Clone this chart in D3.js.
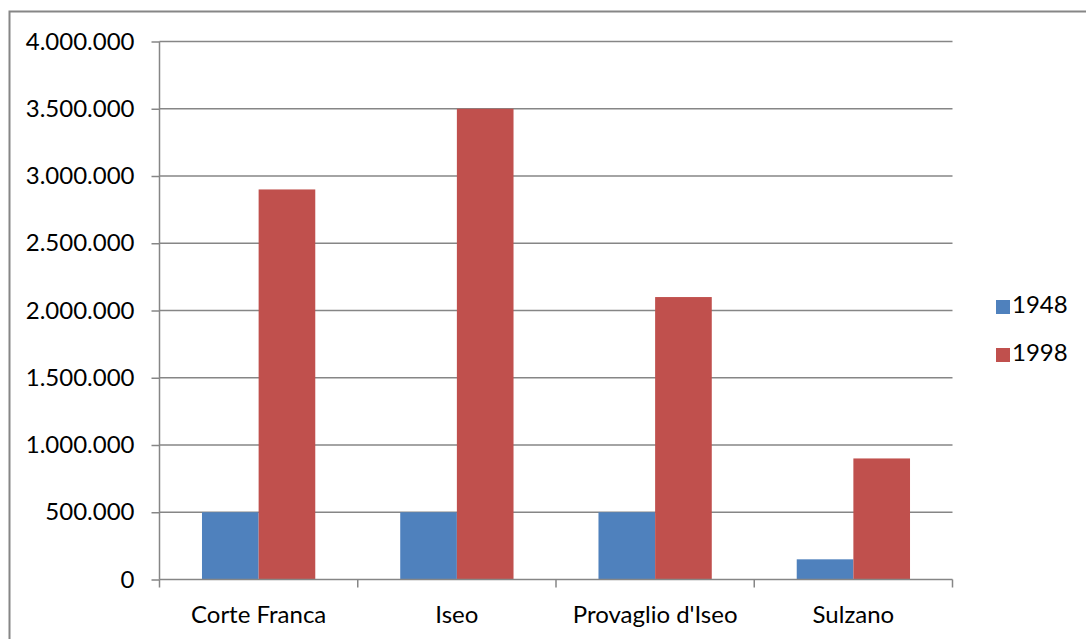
<!DOCTYPE html>
<html>
<head>
<meta charset="utf-8">
<script src="https://cdn.jsdelivr.net/npm/d3@7"></script>
<style>
  html, body { margin: 0; padding: 0; background: #fff; }
  svg { display: block; }
  text { font-family: Lato, "Open Sans", sans-serif; fill: #000; }
</style>
</head>
<body>
<svg id="chart" width="1086" height="639"></svg>
<script>
// Comuni and their totals for the two years
const categories = ["Corte Franca", "Iseo", "Provaglio d'Iseo", "Sulzano"];
const seriesNames = ["1948", "1998"];
const values1948 = [500000, 500000, 500000, 150000];
const values1998 = [2900000, 3500000, 2100000, 900000];
const yTicks = [0, 500000, 1000000, 1500000, 2000000, 2500000, 3000000, 3500000, 4000000];
const colors = ["#4F81BD", "#C0504D"];

const svg = d3.select("#chart");
const W = 1086, H = 639;
const plot = { left: 159.5, right: 952.5, top: 41.5, bottom: 579.5 };
const fontSize = 24;
const grid = "#868686";

// outer chart frame
svg.append("rect")
  .attr("x", 9.5).attr("y", 11.5)
  .attr("width", W + 10).attr("height", H + 10)
  .attr("fill", "none").attr("stroke", grid).attr("stroke-width", 2);

const x0 = d3.scaleBand().domain(categories).range([plot.left, plot.right]).paddingInner(0).paddingOuter(0);
// gap width 150%: band = 3.5 bar widths, bars centered
const x1 = d3.scaleBand().domain(seriesNames).range([0, x0.bandwidth()]).paddingInner(0).paddingOuter(0.75);
const y = d3.scaleLinear().domain([0, 4000000]).range([plot.bottom, plot.top]);

const fmt = d3.formatLocale({ decimal: ",", thousands: ".", grouping: [3], currency: ["", "€"] }).format(",d");

// horizontal gridlines
svg.append("g").selectAll("line").data(yTicks.filter(d => d > 0)).join("line")
  .attr("x1", plot.left).attr("x2", plot.right)
  .attr("y1", d => y(d)).attr("y2", d => y(d))
  .attr("stroke", grid).attr("stroke-width", 1.5);

// bars
const data = categories.map((c, i) => ({ cat: c, vals: [values1948[i], values1998[i]] }));
const groups = svg.append("g").selectAll("g").data(data).join("g")
  .attr("transform", d => `translate(${x0(d.cat)},0)`);
groups.selectAll("rect").data(d => d.vals.map((v, j) => ({ key: seriesNames[j], v, j }))).join("rect")
  .attr("x", d => x1(d.key))
  .attr("width", x1.bandwidth())
  .attr("y", d => y(d.v))
  .attr("height", d => y(0) - y(d.v))
  .attr("fill", d => colors[d.j]);

// y axis
const yAxis = d3.axisLeft(y).tickValues(yTicks).tickFormat(fmt).tickSize(8).tickPadding(17);
const gy = svg.append("g").attr("transform", `translate(${plot.left},0)`).call(yAxis);
gy.select(".domain").attr("d", `M0,${plot.top}V${plot.bottom}`).attr("stroke", grid).attr("stroke-width", 1.5);
gy.selectAll(".tick line").attr("stroke", grid).attr("stroke-width", 1.5);
gy.selectAll(".tick text").attr("font-size", fontSize).attr("font-family", "Lato, sans-serif").attr("fill", "#000");

// x axis
const xAxis = d3.axisBottom(x0).tickSize(0).tickPadding(26);
const gx = svg.append("g").attr("transform", `translate(0,${plot.bottom})`).call(xAxis);
gx.select(".domain").remove();
gx.append("line").attr("x1", plot.left).attr("x2", plot.right).attr("stroke", grid).attr("stroke-width", 1.5);
const boundaries = categories.map(c => x0(c)).concat([plot.right]);
gx.selectAll("line.sep").data(boundaries).join("line").attr("class", "sep")
  .attr("x1", d => d).attr("x2", d => d).attr("y1", 0).attr("y2", 8)
  .attr("stroke", grid).attr("stroke-width", 1.5);
gx.selectAll(".tick text").attr("font-size", fontSize).attr("font-family", "Lato, sans-serif").attr("fill", "#000");

// legend
const legend = svg.append("g").attr("transform", "translate(996,300)");
const li = legend.selectAll("g").data(seriesNames).join("g")
  .attr("transform", (d, i) => `translate(0,${i * 48})`);
li.append("rect").attr("width", 14).attr("height", 14).attr("fill", (d, i) => colors[i]);
li.append("text").attr("x", 16).attr("y", 13).attr("font-size", fontSize).text(d => d);
</script>
</body>
</html>
